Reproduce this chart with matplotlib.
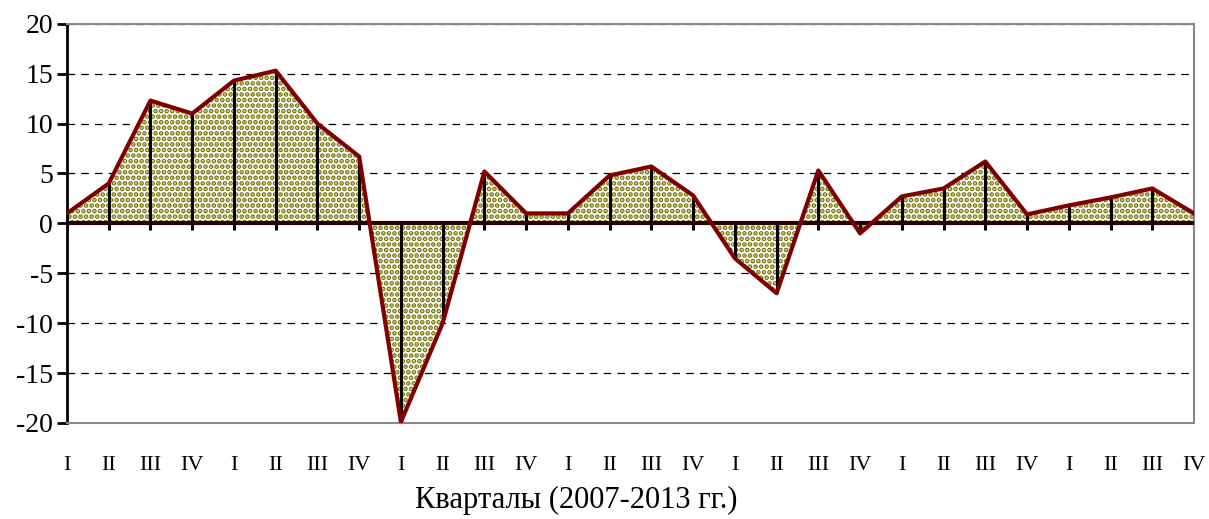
import numpy as np
import matplotlib.pyplot as plt

plt.rcParams['font.family'] = ['Liberation Serif', 'DejaVu Serif']
plt.rcParams['axes.unicode_minus'] = False
plt.rcParams['hatch.linewidth'] = 2.4

# quarterly values, 2007-2013
quarters = ["I", "II", "III", "IV"] * 7
values = [1.0, 4.0, 12.3, 11.0, 14.3, 15.3, 10.0, 6.7,
          -19.9, -10.0, 5.2, 1.0, 1.0, 4.8, 5.7, 2.8,
          -3.5, -7.0, 5.3, -1.0, 2.7, 3.5, 6.2, 0.9,
          1.8, 2.6, 3.5, 1.0]

x = np.arange(len(values))
y = np.array(values)

fig = plt.figure(figsize=(12.09, 5.19), dpi=100)
ax = fig.add_axes([0.0554, 0.185, 0.9322, 0.7692])

ax.fill_between(x, y, 0, facecolor="white", edgecolor="#737300",
                hatch="...", linewidth=0, zorder=1)
ax.vlines(x, 0, y, color="black", lw=2.2, zorder=2)
ax.vlines(x, 0, -0.7, color="black", lw=2.2, zorder=2)
ax.axhline(0, color="#2a0000", lw=3.0, zorder=3)
ax.plot(x, y, color="#800000", lw=3.0, zorder=4)

ax.set_xlim(0, len(values) - 1)
ax.set_ylim(-20, 20)
ax.set_yticks(range(-20, 21, 5))
ax.yaxis.grid(True, linestyle=(0, (6, 5)), color="black", lw=0.9)
ax.set_axisbelow(True)

ax.set_xticks(x)
ax.set_xticklabels(quarters, fontsize=16)
ax.tick_params(axis="x", length=0, pad=24)
ax.tick_params(axis="y", labelsize=20, length=7, width=2, direction="out", pad=3)

for s in ["top", "right", "bottom"]:
    ax.spines[s].set_color("#888888")
    ax.spines[s].set_linewidth(1.5)
ax.spines["left"].set_color("black")
ax.spines["left"].set_linewidth(2)

ax.set_xlabel("Кварталы (2007-2013 гг.)", fontsize=22, va="center")
ax.xaxis.set_label_coords(0.452, -0.193)

fig.savefig("out.png", dpi=100)
